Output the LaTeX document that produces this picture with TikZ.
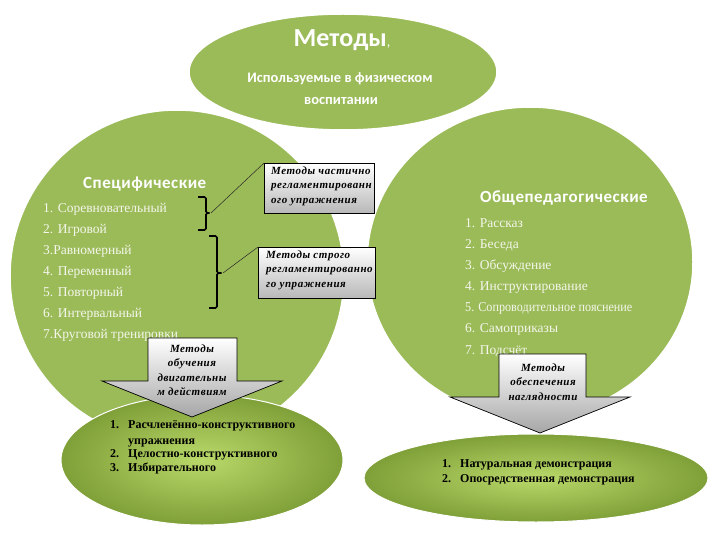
\documentclass[tikz,border=0pt]{standalone}
\usepackage{fontspec}
\setmainfont{Liberation Serif}
\newfontfamily\hd[LetterSpace=3]{Carlito}
\newfontfamily\hdtop{Carlito}
\newfontfamily\bxf[LetterSpace=5]{Liberation Serif}
\usetikzlibrary{shapes.geometric}
\definecolor{grn}{HTML}{9BBB59}
\definecolor{grnlight}{HTML}{BAD96A}
\definecolor{grndark}{HTML}{7F9F38}
\definecolor{listc}{HTML}{F4F6EA}
\begin{document}
\begin{tikzpicture}[x=1pt,y=-1pt,
  blob/.style={ellipse, fill=grn, draw=white, line width=1.5pt, inner sep=0pt},
  lowblob/.style={ellipse, draw=white, line width=1pt, inner sep=0pt, inner color=grnlight, outer color=grndark},
  headtxt/.style={font=\hd\bfseries\fontsize{17}{19}\selectfont, text=white, inner sep=0pt},
  listtxt/.style={font=\fontsize{13.5}{16}\selectfont, text=listc, anchor=base west, inner sep=0pt},
  lowtxt/.style={font=\bfseries\fontsize{12}{14}\selectfont, text=black, anchor=base west, inner sep=0pt},
  boxtxt/.style={font=\bxf\bfseries\itshape\fontsize{11}{14.5}\selectfont},
  callbox/.style={draw=black, line width=0.8pt, top color=white, bottom color=black!28, inner sep=0pt, anchor=north west},
  arrowshape/.style={draw=black, line width=0.7pt, top color=white, bottom color=black!35},
  brk/.style={draw=black, line width=1.6pt, rounded corners=1.5pt},
  conn/.style={draw=black!85, line width=0.5pt}
]
\useasboundingbox (0,0) rectangle (720,540);
\fill[white] (0,0) rectangle (720,540);

% main shapes
\node[blob, minimum width=308pt, minimum height=116pt] (top) at (343,72) {};
\node[blob, minimum width=334pt, minimum height=332pt] (left) at (177,276) {};
\node[blob, minimum width=326pt, minimum height=310pt] (right) at (530,262) {};

% top texts
\node[inner sep=0pt, text=white, anchor=base] (t1) at (342,47) {\hdtop\bfseries\fontsize{26}{28}\selectfont Методы\mdseries\fontsize{14}{14}\selectfont,};
\node[inner sep=0pt, text=white, font=\hdtop\bfseries\fontsize{14.5}{16}\selectfont, anchor=base] (t2) at (340,83) {Используемые в физическом};
\node[inner sep=0pt, text=white, font=\hdtop\bfseries\fontsize{14.5}{16}\selectfont, anchor=base] (t3) at (341,105) {воспитании};

% headings
\node[headtxt, anchor=base west] (h1) at (83,189) {Специфические};
\node[headtxt, anchor=base west] (h2) at (480,203) {Общепедагогические};

% left list
\node[listtxt] (l1) at (43,212.5) {1. Соревновательный};
\node[listtxt] (l2) at (43,233.5) {2. Игровой};
\node[listtxt] (l3) at (43,254.5) {3.Равномерный};
\node[listtxt] (l4) at (43,275) {4. Переменный};
\node[listtxt] (l5) at (43,296.5) {5. Повторный};
\node[listtxt] (l6) at (43,317.5) {6. Интервальный};
\node[listtxt] (l7) at (43,338) {7.Круговой тренировки};

% right list
\node[listtxt] (r1) at (465,227.5) {1. Рассказ};
\node[listtxt] (r2) at (465,248) {2. Беседа};
\node[listtxt] (r3) at (465,269.5) {3. Обсуждение};
\node[listtxt] (r4) at (465,290.5) {4. Инструктирование};
\node[listtxt] (r5) at (465,311.5) {\scalebox{0.9}[1]{5. Сопроводительное пояснение}};
\node[listtxt] (r6) at (465,332.5) {6. Самоприказы};
\node[listtxt] (r7) at (465,354) {7. Подсчёт};

% brackets
\draw[brk] (198,197) -- (206,197) -- (206,213) -- (211,213) -- (206,213) -- (206,230) -- (198,230);
\draw[brk] (209,236) -- (217,236) -- (217,273) -- (223,273) -- (217,273) -- (217,308) -- (209,308);
\coordinate (b1) at (211,213);
\coordinate (b2) at (223,273);

% callout boxes
\node[callbox, minimum width=110pt, minimum height=50pt] (box1) at (264,163) {};
\node[boxtxt, anchor=north west, align=left, inner sep=0pt] (box1t) at (271,166.5) {Методы частично\\регламентированн\\ого упражнения};
\node[callbox, minimum width=117pt, minimum height=51pt] (box2) at (258,247) {};
\node[boxtxt, anchor=north west, align=left, inner sep=0pt] (box2t) at (266,250.5) {Методы строго\\регламентированно\\го упражнения};
\draw[conn] (b1) -- (box1.north west);
\draw[conn] (b2) -- (box2.north west);

% lower ellipses
\node[lowblob, minimum width=282pt, minimum height=130pt] (lowl) at (202,460) {};
\node[lowblob, minimum width=344pt, minimum height=88pt] (lowr) at (536,478) {};

% lower-left list
\node[lowtxt] (n1) at (110,428) {1.};
\node[lowtxt] (p1) at (128,428) {Расчленённо-конструктивного};
\node[lowtxt] (p1b) at (128,444) {упражнения};
\node[lowtxt] (n2) at (110,457.5) {2.};
\node[lowtxt] (p2) at (128,457.5) {Целостно-конструктивного};
\node[lowtxt] (n3) at (110,471.5) {3.};
\node[lowtxt] (p3) at (128,471.5) {Избирательного};

% lower-right list
\node[lowtxt] (m1) at (442,467.5) {1.};
\node[lowtxt] (q1) at (460,467.5) {Натуральная демонстрация};
\node[lowtxt] (m2) at (442,482.5) {2.};
\node[lowtxt] (q2) at (460,482.5) {Опосредственная демонстрация};

% arrows
\path[arrowshape] (148,338) -- (237,338) -- (237,381) -- (282,381) -- (192,417) -- (102,381) -- (148,381) -- cycle;
\node[boxtxt, align=center, inner sep=0pt] (a1) at (192,370) {Методы\\обучения\\двигательны\\м действиям};
\path[arrowshape] (499,354) -- (586,354) -- (586,397) -- (630,397) -- (540,433) -- (450,397) -- (499,397) -- cycle;
\node[boxtxt, align=center, inner sep=0pt] (a2) at (543,382) {Методы\\обеспечения\\наглядности};
\end{tikzpicture}
\end{document}
